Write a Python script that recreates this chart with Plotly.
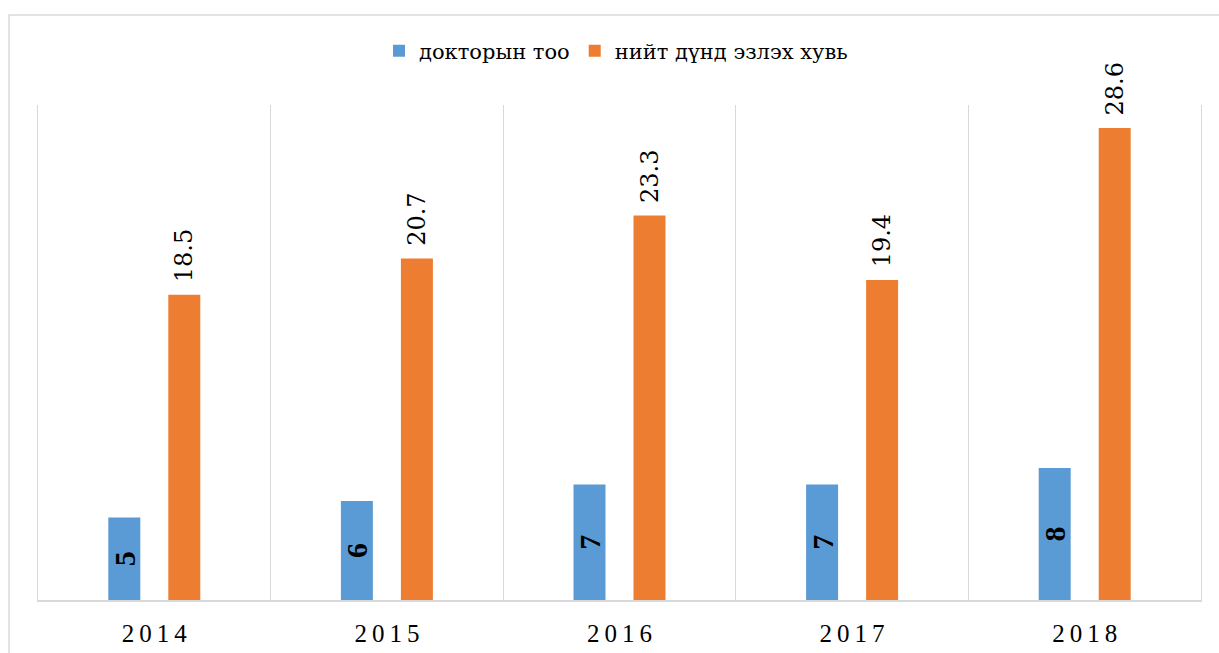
import plotly.graph_objects as go

# Data
years = ["2014", "2015", "2016", "2017", "2018"]
doctor_counts = [5, 6, 7, 7, 8]
share_pct = [18.5, 20.7, 23.3, 19.4, 28.6]
series_names = ["докторын тоо", "нийт дүнд эзлэх хувь"]

BLUE = "#5B9BD5"
ORANGE = "#ED7D31"
GRID = "#D9D9D9"
FONT = "serif"
FONT_ALT = "DejaVu Serif"
THIN = "\u2009"


def spaced(s):
    """Spread characters apart with thin spaces (character spacing)."""
    return THIN.join(list(s))


fig = go.Figure()

fig.add_trace(go.Bar(
    x=years,
    y=doctor_counts,
    name=series_names[0],
    marker=dict(color=BLUE, line=dict(width=0)),
    text=[str(v) for v in doctor_counts],
    textposition="inside",
    insidetextanchor="middle",
    textangle=-90,
    constraintext="none",
    textfont=dict(family=FONT, size=30, color="black", weight="bold"),
))

fig.add_trace(go.Bar(
    x=years,
    y=share_pct,
    name=series_names[1],
    marker=dict(color=ORANGE, line=dict(width=0)),
    text=[THIN * 2 + f"{v:.1f}" for v in share_pct],
    textposition="outside",
    textangle=-90,
    constraintext="none",
    cliponaxis=False,
    textfont=dict(family=FONT_ALT, size=24, color="black"),
    outsidetextfont=dict(family=FONT_ALT, size=24, color="black"),
))

fig.update_layout(
    width=1219,
    height=653,
    margin=dict(l=38, r=18, t=105, b=53),
    paper_bgcolor="white",
    plot_bgcolor="white",
    barmode="group",
    bargap=0.484,
    bargroupgap=0.467,
    font=dict(family=FONT, color="black"),
    showlegend=True,
    legend=dict(
        orientation="h",
        x=0.497,
        xanchor="center",
        y=1.109,
        yanchor="middle",
        font=dict(family=FONT_ALT, size=21, color="black"),
        bgcolor="rgba(0,0,0,0)",
    ),
    xaxis=dict(
        type="category",
        tickson="boundaries",
        tickmode="array",
        tickvals=years,
        ticktext=[spaced(y) for y in years],
        tickfont=dict(family=FONT, size=25, color="black"),
        ticks="",
        ticklabelstandoff=10,
        automargin=False,
        showgrid=True,
        gridcolor=GRID,
        gridwidth=1,
        showline=True,
        linecolor=GRID,
        linewidth=1.5,
        zeroline=False,
    ),
    yaxis=dict(
        range=[0, 30],
        showticklabels=False,
        ticks="",
        showgrid=False,
        zeroline=False,
        showline=True,
        mirror=True,
        linecolor=GRID,
        linewidth=1,
        automargin=False,
    ),
    shapes=[
        # Chart frame
        dict(
            type="rect",
            xref="paper",
            yref="paper",
            x0=-0.0249,
            x1=1.05,
            y0=-0.2,
            y1=1.1818,
            line=dict(color=GRID, width=1.5),
            fillcolor="rgba(0,0,0,0)",
            layer="below",
        )
    ],
)

fig.write_html("out.html")
